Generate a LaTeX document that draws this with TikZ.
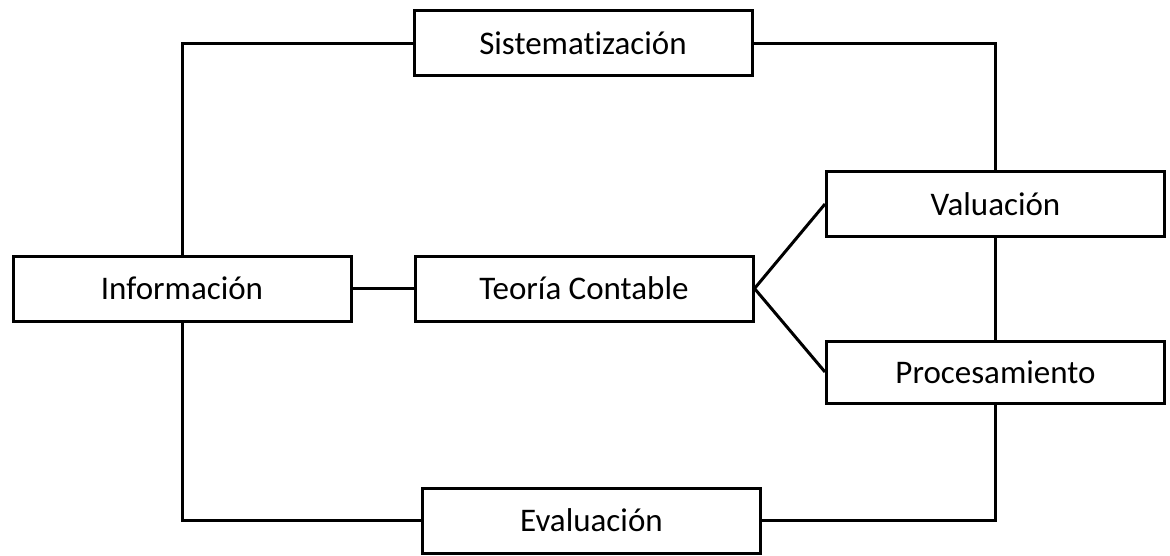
\documentclass[tikz,border=0pt]{standalone}
\usepackage{fontspec}
\setmainfont{Carlito}[Ligatures=NoCommon]
\begin{document}
\begin{tikzpicture}[x=1pt,y=-1pt,
  box/.style={draw, line width=3pt, minimum width=338pt, minimum height=65pt, inner sep=0pt, font=\fontsize{33}{40}\selectfont},
  conn/.style={line width=3pt}]
\useasboundingbox (0,0) rectangle (1170,556);
\node[box] (sis) at (583,43.5) {Sistematización};
\node[box] (val) at (995.5,204) {Valuación};
\node[box] (inf) at (182,288.5) {Información};
\node[box] (teo) at (584,288.5) {Teoría Contable};
\node[box, minimum height=62pt] (pro) at (995.5,372) {Procesamiento};
\node[box] (eva) at (591.5,520.5) {Evaluación};
\draw[conn] (inf.north) |- (sis.west);
\draw[conn] (sis.east) -| (val.north);
\draw[conn] (val.south) -- (pro.north);
\draw[conn] (pro.south) |- (eva.east);
\draw[conn] (inf.south) |- (eva.west);
\draw[conn] (inf.east) -- (teo.west);
\draw[conn] (teo.east) -- (val.west);
\draw[conn] (teo.east) -- (pro.west);
\end{tikzpicture}
\end{document}
